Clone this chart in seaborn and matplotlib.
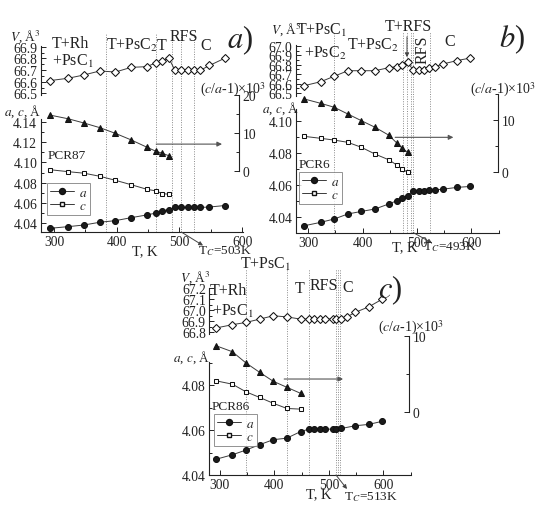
import numpy as np
import pandas as pd
import matplotlib
matplotlib.use("Agg")
import matplotlib.pyplot as plt
import seaborn as sns
from matplotlib.lines import Line2D
from matplotlib.ticker import MultipleLocator, FormatStrFormatter

# ---------------- data ----------------
# panel a) PCR87
T_a_V = [293, 323, 348, 373, 398, 423, 448, 463, 473, 483, 493, 503, 513, 523, 533, 548, 573]
V_a = [66.609, 66.630, 66.658, 66.692, 66.683, 66.723, 66.729, 66.763, 66.775, 66.803,
       66.697, 66.697, 66.697, 66.697, 66.697, 66.739, 66.803]
T_a_a = [293, 323, 348, 373, 398, 423, 448, 463, 473, 483, 493, 503, 513, 523, 533, 548, 573]
a_a = [4.0350, 4.0367, 4.0383, 4.0410, 4.0426, 4.0455, 4.0482, 4.0501, 4.0524, 4.0534,
       4.0556, 4.0556, 4.0556, 4.0556, 4.0556, 4.0560, 4.0575]
T_a_c = [293, 323, 348, 373, 398, 423, 448, 463, 473, 483]
c_a = [4.0928, 4.0908, 4.0893, 4.0863, 4.0823, 4.0780, 4.0735, 4.0718, 4.0692, 4.0686]
tet_a = [14.7, 13.7, 12.6, 11.4, 9.9, 8.2, 6.3, 5.2, 4.7, 4.07]
phase_a = [383, 463, 488, 503, 523]

# panel b) PCR6
T_b_V = [293, 323, 348, 373, 398, 423, 448, 463, 473, 483, 493, 503, 513, 523, 533, 548, 573, 598]
V_b = [66.578, 66.620, 66.678, 66.737, 66.737, 66.737, 66.769, 66.780, 66.798, 66.826,
       66.745, 66.745, 66.745, 66.763, 66.780, 66.809, 66.844, 66.872]
T_b_a = [293, 323, 348, 373, 398, 423, 448, 463, 473, 483, 493, 503, 513, 523, 533, 548, 573, 598]
a_b = [4.0348, 4.0369, 4.0390, 4.0421, 4.0437, 4.0452, 4.0483, 4.0503, 4.0520, 4.0534,
       4.0565, 4.0565, 4.0565, 4.0569, 4.0571, 4.0575, 4.0586, 4.0592]
T_b_c = [293, 323, 348, 373, 398, 423, 448, 463, 473, 483]
c_b = [4.0903, 4.0891, 4.0880, 4.0866, 4.0835, 4.0793, 4.0758, 4.0725, 4.0700, 4.0680]
tet_b = [14.06, 13.23, 12.46, 11.16, 9.86, 8.59, 7.08, 5.55, 4.53, 3.75]
phase_b = [348, 475, 481, 490, 493, 524]

# panel c) PCR86
T_c_V = [293, 323, 348, 373, 398, 423, 448, 463, 473, 483, 493, 508, 513, 523, 533, 548, 573, 598]
V_c = [66.84, 66.87, 66.89, 66.92, 66.95, 66.94, 66.92, 66.92, 66.92, 66.92,
       66.92, 66.92, 66.92, 66.92, 66.94, 66.98, 67.03, 67.10]
T_c_a = [293, 323, 348, 373, 398, 423, 448, 463, 473, 483, 493, 508, 513, 523, 548, 573, 598]
a_c = [4.0470, 4.0490, 4.0511, 4.0535, 4.0557, 4.0564, 4.0593, 4.0604, 4.0604, 4.0604,
       4.0604, 4.0604, 4.0605, 4.0607, 4.0619, 4.0625, 4.0639]
T_c_c = [293, 323, 348, 373, 398, 423, 448]
c_c = [4.0819, 4.0804, 4.0770, 4.0745, 4.0719, 4.0696, 4.0693]
tet_c = [8.68, 7.89, 6.41, 5.18, 4.00, 3.21, 2.42]
phase_c = [348, 423, 463, 513, 517, 521]

x_ticks = [300, 400, 500, 600]

# ---------------- style ----------------
sns.set_style("ticks")
plt.rcParams["font.family"] = ["Liberation Serif", "DejaVu Serif"]
plt.rcParams["mathtext.fontset"] = "stix"

W, H = 550, 510
INK = "#222222"
LINE = "#3a3a3a"
GRID = "#8a8a8a"
TICK_FS = 9.8

fig = plt.figure(figsize=(W / 100, H / 100), dpi=100)


def rect(x0, x1, y0, y1):
    return [x0 / W, 1 - y1 / H, (x1 - x0) / W, (y1 - y0) / H]


def P(x, y):
    return (x / W, 1 - y / H)


def clean(ax):
    ax.set_facecolor("none")
    for s in ["top", "right", "left", "bottom"]:
        ax.spines[s].set_visible(False)
        ax.spines[s].set_linewidth(0.8)
        ax.spines[s].set_color(INK)
    ax.set_xlabel("")
    ax.set_ylabel("")
    ax.tick_params(which="both", direction="in", colors=INK, labelsize=TICK_FS,
                   width=0.7, pad=2.5)
    ax.tick_params(which="major", length=3.5)
    ax.tick_params(which="minor", length=2)


def series(ax, T, y, marker, filled, ms):
    sns.lineplot(x=T, y=y, ax=ax, marker=marker, color=LINE, linewidth=0.7,
                 markersize=ms, markerfacecolor=("#1a1a1a" if filled else "white"),
                 markeredgecolor="#111111", markeredgewidth=0.75,
                 estimator=None, sort=False, clip_on=False, legend=False, zorder=5)


def panel(spec, TV, V, Ta, a, Tc, c, tet, phases):
    kx = spec["kx"]
    x0, x1 = spec["x"]
    xlim = (spec["Tleft"], spec["Tleft"] + (x1 - x0) / kx)

    # overlay for phase boundaries
    ov = fig.add_axes(rect(x0, x1, spec["vtop"], spec["main_y"][1]))
    ov.set_xlim(xlim)
    ov.set_ylim(0, 1)
    ov.axis("off")
    for t in phases:
        ov.axvline(t, color=GRID, lw=0.7, ls=(0, (1, 1.5)), zorder=0)

    # main a, c axis
    am = fig.add_axes(rect(x0, x1, *spec["main_y"]))
    series(am, Ta, a, "o", True, 4.3)
    series(am, Tc, c, "s", False, 3.4)
    am.set_xlim(xlim)
    am.set_ylim(spec["main_lim"])
    clean(am)
    am.spines["left"].set_visible(True)
    am.spines["bottom"].set_visible(True)
    am.set_xticks(x_ticks)
    am.xaxis.set_minor_locator(MultipleLocator(50))
    am.yaxis.set_major_locator(MultipleLocator(0.02))
    am.yaxis.set_minor_locator(MultipleLocator(0.01))
    am.yaxis.set_major_formatter(FormatStrFormatter("%.2f"))
    am.tick_params(axis="x", which="both", top=False)
    am.tick_params(axis="y", which="both", right=False)

    # V axis
    av = fig.add_axes(rect(x0, x1, *spec["V_y"]))
    series(av, TV, V, "D", False, 3.8)
    av.set_xlim(xlim)
    av.set_ylim(spec["V_lim"])
    clean(av)
    av.spines["left"].set_visible(True)
    av.tick_params(axis="x", which="both", bottom=False, top=False, labelbottom=False)
    av.tick_params(axis="y", which="both", right=False)
    av.yaxis.set_major_locator(MultipleLocator(0.1))
    av.yaxis.set_minor_locator(MultipleLocator(0.05))
    av.yaxis.set_major_formatter(FormatStrFormatter("%.1f"))

    # right (c/a-1)x10^3 axis
    rx1 = spec["r_x"]
    ar = fig.add_axes(rect(x0, rx1, *spec["r_y"]))
    series(ar, Tc, tet, "^", True, 4.7)
    ar.set_xlim(xlim[0], xlim[0] + (rx1 - x0) / kx)
    ar.set_ylim(spec["r_lim"])
    clean(ar)
    ar.spines["right"].set_visible(True)
    ar.yaxis.tick_right()
    ar.tick_params(axis="x", which="both", bottom=False, top=False, labelbottom=False)
    ar.tick_params(axis="y", which="both", left=False, right=True,
                   labelleft=False, labelright=True)
    ar.yaxis.set_major_locator(MultipleLocator(10))
    ar.yaxis.set_minor_locator(MultipleLocator(5))
    ar.annotate("", xy=(spec["arrow"][1], spec["arrow"][2]),
                xytext=(spec["arrow"][0], spec["arrow"][2]),
                arrowprops=dict(arrowstyle="-|>", color="#555555", lw=0.8,
                                mutation_scale=7, shrinkA=0, shrinkB=0),
                annotation_clip=False)

    # Tc arrow
    am.annotate("", xy=P(*spec["tc_end"]), xycoords="figure fraction",
                xytext=(spec["tc"], spec["main_lim"][0]), textcoords="data",
                arrowprops=dict(arrowstyle="-|>", color="#444444", lw=0.7,
                                mutation_scale=6, shrinkA=0, shrinkB=0),
                annotation_clip=False)

    # legend
    handles = [Line2D([], [], color=LINE, lw=0.7, marker="o", ms=4.3,
                      mfc="#1a1a1a", mec="#111111"),
               Line2D([], [], color=LINE, lw=0.7, marker="s", ms=3.4,
                      mfc="white", mec="#111111")]
    leg = am.legend(handles, ["$a$", "$c$"], loc="upper left",
                    bbox_to_anchor=P(*spec["leg"]), bbox_transform=fig.transFigure,
                    frameon=True, fancybox=False, edgecolor="#777777", fontsize=9.5,
                    handlelength=1.8, handletextpad=0.35, borderpad=0.25,
                    labelspacing=0.1, borderaxespad=0)
    leg.get_frame().set_linewidth(0.7)
    return am, av, ar


spec_a = dict(x=(40.7, 242.5), kx=0.627, Tleft=278.8, vtop=35,
              main_y=(120, 233), main_lim=(4.0314, 4.1427),
              V_y=(46.7, 96), V_lim=(66.486, 66.9086),
              r_x=239.3, r_y=(95.7, 172.3), r_lim=(0, 20),
              arrow=(463, 568, 7.1), tc=503, tc_end=(203, 246.5), leg=(47, 184))
spec_b = dict(x=(296, 499), kx=0.544, Tleft=277.7, vtop=33,
              main_y=(110, 233.5), main_lim=(4.0306, 4.1073),
              V_y=(46, 97), V_lim=(66.468, 67.0106),
              r_x=498.3, r_y=(95, 172.7), r_lim=(0, 15.03),
              arrow=(460, 567, 6.65), tc=493, tc_end=(432, 244), leg=(299, 173))
spec_c = dict(x=(209.3, 410.7), kx=0.5453, Tleft=280.7, vtop=270,
              main_y=(362.7, 476), main_lim=(4.04, 4.0904),
              V_y=(288.5, 335), V_lim=(66.786, 67.2045),
              r_x=409.3, r_y=(336.7, 412.7), r_lim=(0, 10),
              arrow=(418, 526, 4.3), tc=513, tc_end=(347, 490), leg=(214, 415))

panel(spec_a, T_a_V, V_a, T_a_a, a_a, T_a_c, c_a, tet_a, phase_a)
panel(spec_b, T_b_V, V_b, T_b_a, a_b, T_b_c, c_b, tet_b, phase_b)
panel(spec_c, T_c_V, V_c, T_c_a, a_c, T_c_c, c_c, tet_c, phase_c)


def txt(x, y, s, size=11.5, ha="left", va="center", **kw):
    fig.text(*P(x, y), s, fontsize=size, ha=ha, va=va, color=INK, **kw)


VL = r"$V$, Å$^3$"
ACL = r"$a$, $c$, Å"
CAL = r"($c$/$a$-1)×10$^3$"

# panel a
txt(25, 37, VL, 9.5, ha="center")
txt(23, 112, ACL, 9.5, ha="center")
txt(52, 43.5, "T+Rh")
txt(52, 61.5, r"+PsC$_1$")
txt(106, 45, r"T+PsC$_2$")
txt(157, 46, "T")
txt(170, 37, "RFS")
txt(200, 46, "C")
txt(240, 40, r"$a$)", 22, ha="center")
txt(233, 90, CAL, 10, ha="center")
txt(48, 156, "PCR87", 9.5)
txt(145, 252, "T, K", 10.5, ha="center")
txt(225, 251, r"T$_C$=503K", 9.5, ha="center")

# panel b
txt(286, 30, VL, 9.5, ha="center")
txt(296, 30, r"T+PsC$_1$")
txt(304, 53, r"+PsC$_2$")
txt(347, 45, r"T+PsC$_2$")
txt(385, 27, "T+RFS")
txt(423, 50, "RFS", rotation=90, ha="center")
txt(450, 42, "C", ha="center")
txt(512, 39, r"$b$)", 22, ha="center")
txt(503, 90, CAL, 10, ha="center")
txt(281, 109, ACL, 9.5, ha="center")
txt(299, 165.5, "PCR6", 9.5)
txt(405, 248, "T, K", 10.5, ha="center")
txt(450, 247, r"T$_C$=493K", 9.5, ha="center")
fig.add_artist(matplotlib.patches.FancyArrowPatch(
    P(407, 35), P(407, 61), transform=fig.transFigure, arrowstyle="-|>",
    mutation_scale=6, color="#444444", lw=0.7))

# panel c
txt(195, 278, VL, 9.5, ha="center")
txt(240, 264, r"T+PsC$_1$")
txt(210, 291, "T+Rh")
txt(212, 311, r"+PsC$_1$")
txt(300, 289, "T", ha="center")
txt(323.5, 286, "RFS", ha="center")
txt(348, 288, "C", ha="center")
txt(390, 290, r"$c$)", 22, ha="center")
txt(411, 328, CAL, 10, ha="center")
txt(192, 358, ACL, 9.5, ha="center")
txt(212, 407.5, "PCR86", 9.5)
txt(319, 495, "T, K", 10.5, ha="center")
txt(371, 497, r"T$_C$=513K", 9.5, ha="center")

fig.savefig("out.png", dpi=100, facecolor="white")
